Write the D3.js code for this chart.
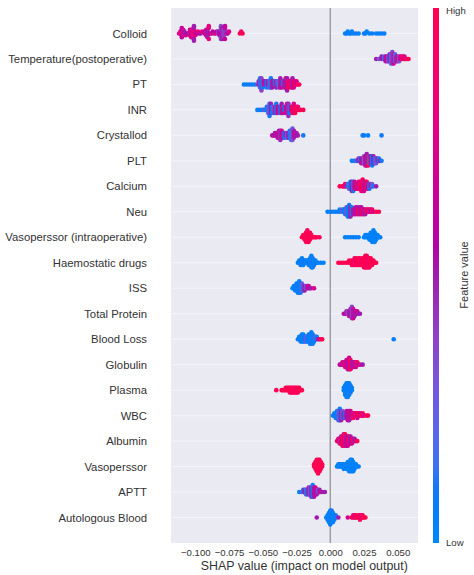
<!DOCTYPE html>
<html>
<head>
<meta charset="utf-8">
<script src="https://cdn.jsdelivr.net/npm/d3@7"></script>
<style>
  body { margin: 0; background: #fff; }
  text { font-family: "Liberation Sans", Arial, sans-serif; fill: #333; }
</style>
</head>
<body>
<div id="chart"></div>
<script>
// each swarm entry: [SHAP value x1000, number of dots at that value, feature value 0..1]
var colloid = [[-112,1,.7],[-111,2,.8],[-110,4,.6],[-109,4,.75],[-108,2,.5],[-107,1,.7],[-106,1,.6],[-105,1,.5],
  [-104,3,.8],[-103,5,.6],[-102,5,.8],[-101,4,.5],[-100,3,.75],[-99,1,.6],[-98,1,.8],[-97,1,.7],[-96,1,.5],[-95,1,.8],
  [-93,2,.6],[-92,4,.75],[-91,5,.5],[-90,3,.8],[-89,1,.6],[-88,1,.75],[-87,1,.6],[-86,1,.5],[-85,1,.8],[-84,1,.6],
  [-83,2,.4],[-82,3,.6],[-81,5,.35],[-80,7,.5],[-79,5,.4],[-78,3,.65],[-77,2,.45],[-76,1,.6],[-75,1,.75],
  [-67,1,1],[-66,1,.95],[-65,1,1],
  [11,1,.05],[12,1,.1],[13,1,.05],[14,1,.05],[15,1,.1],[16,1,.05],[17,1,.05],[19,1,.1],[21,1,.05],
  [25,1,.05],[26,1,.1],[27,1,.05],[29,1,.05],[31,1,.1],[34,1,.05],[36,1,.05],[38,1,.1],[40,1,.05]];
var temperature = [[34,1,.5],[36,1,.3],[38,2,.5],[40,2,.15],[41,3,.5],[42,3,.7],[43,3,.3],[44,4,.5],[45,5,.15],[46,6,.4],
  [47,5,.7],[48,4,.2],[49,3,.5],[50,3,.8],[51,3,.3],[52,2,.6],[53,2,.85],[54,2,1],[55,2,.7],[56,1,1],[57,1,.9],[58,1,1]];
var pt = [[-64,1,.05],[-62,1,.05],[-60,1,.1],[-58,1,.05],[-56,1,.05],[-54,1,.3],[-53,2,.5],[-52,4,.1],[-51,5,.4],[-50,3,.1],
  [-49,2,.7],[-48,2,.5],[-47,3,.1],[-46,2,.5],[-45,3,.3],[-44,4,.1],[-43,3,.5],[-42,2,.7],[-41,2,.1],[-40,3,.5],[-39,2,.15],
  [-38,3,.3],[-37,4,.5],[-36,3,.7],[-35,2,.1],[-34,3,.5],[-33,4,.7],[-32,5,.5],[-31,3,1],[-30,2,.7],[-29,3,1],[-28,4,.5],
  [-27,3,.7],[-26,2,1],[-25,2,.7],[-24,1,1],[-23,1,.9]];
var inr = [[-54,1,.05],[-52,1,.1],[-50,1,.05],[-49,1,.3],[-48,1,.05],[-47,2,.1],[-46,3,.3],[-45,5,.1],[-44,4,.5],[-43,3,.1],
  [-42,2,.3],[-41,3,.5],[-40,4,.1],[-39,3,.7],[-38,2,.5],[-37,3,.1],[-36,4,.5],[-35,3,.7],[-34,2,.1],[-33,3,.5],[-32,4,.7],
  [-31,5,.45],[-30,3,.1],[-29,2,.7],[-28,3,1],[-27,4,.7],[-26,3,1],[-25,2,1],[-24,2,.85],[-23,1,1],[-22,1,1],[-20,1,1]];
var crystallod = [[-43,1,.5],[-42,1,.7],[-41,2,.5],[-40,2,.5],[-39,3,.7],[-38,4,.5],[-37,5,.45],[-36,4,.7],[-35,3,.5],[-34,3,.1],
  [-33,2,.5],[-32,3,.3],[-31,3,.5],[-30,4,.1],[-29,5,.15],[-28,6,.3],[-27,4,.5],[-26,2,.7],[-25,2,.5],[-24,1,.5],[-20,1,.1],
  [24,1,.05],[25,1,.1],[28,1,.05],[38,1,.1]];
var plt = [[16,1,.05],[18,1,.1],[19,1,.3],[20,1,.05],[21,2,.5],[22,2,.1],[23,3,.7],[24,3,.5],[25,4,.3],[26,5,.7],[27,6,.5],
  [28,5,1],[29,4,.1],[30,4,.7],[31,5,.1],[32,4,.5],[33,3,.1],[34,3,.3],[35,2,.5],[36,2,.1],[37,1,.5],[38,1,.1]];
var calcium = [[7,1,1],[9,1,1],[10,1,.7],[11,2,1],[12,1,.5],[13,2,.1],[14,3,.3],[15,4,.1],[16,5,.5],[17,5,.1],[18,4,.7],
  [19,3,.5],[20,3,1],[21,4,.7],[22,4,1],[23,5,.7],[24,6,1],[25,5,.7],[26,4,.5],[27,4,1],[28,3,.7],[29,3,.1],[30,2,.5],
  [31,2,.3],[32,1,.1],[34,1,.5]];
var neu = [[-2,1,.05],[0,1,.05],[2,1,.1],[4,1,.05],[6,1,.05],[7,2,.1],[9,2,.3],[10,2,.05],[11,3,.1],[12,4,.3],[13,5,.05],
  [14,6,.1],[15,5,.5],[16,4,.1],[17,3,.7],[18,3,.5],[19,4,.7],[20,4,.5],[21,3,1],[22,4,.7],[23,4,.5],[24,3,1],[25,3,.7],
  [26,3,.5],[27,2,1],[28,2,.7],[29,2,1],[30,2,.5],[31,2,1],[32,1,.7],[34,1,1],[36,1,1]];
var vasoIntra = [[-21,1,1],[-20,2,1],[-19,3,1],[-18,5,1],[-17,6,.95],[-16,5,1],[-15,4,1],[-14,2,1],[-13,1,1],[-12,1,1],
  [-11,1,1],[-10,1,1],[-8,1,1],
  [11,1,.05],[13,1,.05],[15,1,.05],[17,1,.05],[19,1,.05],[21,1,.05],[25,1,.05],[26,2,.05],[27,2,.05],[28,2,.05],[29,3,.05],
  [30,4,.05],[31,5,.05],[32,6,.05],[33,5,.05],[34,3,.05],[35,2,.05],[36,1,.05],[37,1,.05]];
var haemostatic = [[-24,1,.05],[-23,2,.05],[-22,3,.1],[-21,4,.05],[-20,3,.05],[-19,2,.1],[-18,2,.05],[-17,2,.05],[-16,3,.1],
  [-15,4,.05],[-14,6,.05],[-13,5,.1],[-12,3,.05],[-11,2,.05],[-10,1,.1],[-9,1,.05],[-7,1,.05],[-5,1,.05],
  [6,1,1],[8,1,1],[10,1,1],[12,1,1],[14,2,1],[16,3,1],[17,3,1],[18,4,.85],[19,4,1],[20,3,1],[21,4,1],[22,4,1],[23,3,.85],
  [24,4,1],[25,5,1],[26,6,1],[27,6,1],[28,5,.85],[29,5,1],[30,4,1],[31,3,1],[32,2,1],[33,1,1],[34,1,1]];
var iss = [[-28,1,.05],[-27,2,.05],[-26,3,.1],[-25,4,.05],[-24,5,.1],[-23,6,.05],[-22,5,.1],[-21,4,.3],[-20,3,.1],[-19,3,.5],
  [-18,2,.3],[-17,2,.5],[-16,2,.7],[-15,1,.5],[-14,1,.5],[-12,1,.7]];
var totalProtein = [[10,1,.5],[11,1,.7],[12,2,.5],[13,2,.3],[14,3,.7],[15,4,.5],[16,6,.35],[17,5,.7],[18,3,.5],[19,2,.5],
  [20,2,.7],[21,1,.5],[22,1,.5]];
var bloodLoss = [[-24,1,.05],[-23,2,.05],[-22,3,.1],[-21,4,.05],[-20,4,.05],[-19,3,.1],[-18,3,.3],[-17,3,.05],[-16,4,.1],
  [-15,5,.05],[-14,6,.05],[-13,5,.1],[-12,3,.05],[-11,2,.3],[-10,2,.05],[-9,1,.5],[-8,1,.7],[-7,1,1],[-6,1,1],[47,1,.05]];
var globulin = [[7,1,.7],[8,1,.5],[9,2,.7],[10,2,.5],[11,3,1],[12,4,.7],[13,5,.5],[14,6,.7],[15,5,1],[16,3,.5],[17,3,.7],
  [18,2,.5],[19,3,.7],[20,2,1],[21,1,.5],[22,1,.7],[24,1,.5]];
var plasma = [[-40,1,1],[-36,1,1],[-35,1,1],[-34,1,1],[-33,2,1],[-32,2,1],[-31,2,1],[-30,3,1],[-29,3,1],[-28,3,1],[-27,3,1],
  [-26,3,.85],[-25,3,1],[-24,3,1],[-23,2,1],[-22,1,1],[-21,1,1],
  [10,2,.05],[11,5,.05],[12,7,.1],[13,7,.05],[14,6,.05],[15,4,.1],[16,2,.05]];
var wbc = [[2,1,.05],[3,2,.05],[4,3,.1],[5,4,.05],[6,5,.3],[7,6,.05],[8,5,.5],[9,4,.3],[10,3,.5],[11,3,.1],[12,4,.5],[13,5,.7],
  [14,5,.5],[15,4,.7],[16,3,.5],[17,3,1],[18,2,.7],[19,2,1],[20,3,.7],[21,2,1],[22,2,.7],[23,1,1],[24,2,1],[25,1,.7],
  [27,1,1],[28,1,1]];
var albumin = [[5,1,1],[6,2,.7],[7,3,1],[8,4,.5],[9,5,1],[10,6,.7],[11,6,1],[12,5,.5],[13,5,.7],[14,4,1],[15,4,.5],[16,3,.7],
  [17,2,1],[18,2,.5],[19,1,.7],[20,1,1]];
var vasopressor = [[-12,2,1],[-11,4,1],[-10,6,1],[-9,7,1],[-8,6,1],[-7,4,1],[-6,2,1],
  [5,1,.05],[6,2,.05],[7,2,.05],[8,2,.05],[9,2,.05],[10,3,.05],[11,2,.05],[12,3,.05],[13,4,.05],[14,5,.05],[15,6,.05],
  [16,6,.05],[17,5,.05],[18,3,.05],[19,2,.05],[20,1,.05],[21,1,.05]];
var aptt = [[-23,1,.05],[-21,1,.3],[-20,2,.05],[-19,2,.5],[-18,3,.3],[-17,3,.05],[-16,4,.5],[-15,4,.3],[-14,5,.5],[-13,6,.1],
  [-12,5,.5],[-11,4,.7],[-10,3,.5],[-9,2,.3],[-8,2,.5],[-7,1,.7],[-6,1,.5],[-4,1,.5]];
var autologous = [[-10,1,.5],[-3,1,.05],[-2,3,.05],[-1,5,.05],[0,7,.05],[1,6,.1],[2,5,.05],[3,3,.05],[4,2,.1],[6,1,.5],
  [13,1,.7],[16,1,1],[17,2,1],[18,2,.7],[19,2,1],[20,1,1],[21,2,1],[22,3,1],[23,2,.7],[24,2,1],[25,1,1],[26,1,1]];

var features = ["Colloid","Temperature(postoperative)","PT","INR","Crystallod","PLT","Calcium","Neu",
  "Vasoperssor (intraoperative)","Haemostatic drugs","ISS","Total Protein","Blood Loss","Globulin","Plasma",
  "WBC","Albumin","Vasoperssor","APTT","Autologous Blood"];
var swarms = [colloid, temperature, pt, inr, crystallod, plt, calcium, neu, vasoIntra, haemostatic, iss,
  totalProtein, bloodLoss, globulin, plasma, wbc, albumin, vasopressor, aptt, autologous];
var xTicks = [-0.1, -0.075, -0.05, -0.025, 0, 0.025, 0.05];

var W = 474, H = 575,
    plotL = 171, plotR = 418, plotT = 8, plotB = 543,
    dotR = 2.3;

// shap red_blue colormap (lch ramp with darker middle)
function shapColor(t){
  var l = 54 - 14*(1 - Math.abs(2*t - 1));
  return d3.hcl(266.9 + 113.4*t, 70 + 20*t, l).formatHex();
}

var svg = d3.select("#chart").append("svg")
  .attr("width", W).attr("height", H);

var x = d3.scaleLinear().domain([-0.118, 0.065]).range([plotL, plotR]);
var y = d3.scaleLinear().domain([-1, features.length]).range([plotT, plotB]);
var unit = y(1) - y(0);

svg.append("rect")
  .attr("x", plotL).attr("y", plotT)
  .attr("width", plotR - plotL).attr("height", plotB - plotT)
  .attr("fill", "#eaeaf2");

svg.append("g").selectAll("line").data(features).join("line")
  .attr("x1", plotL).attr("x2", plotR)
  .attr("y1", function(d,i){ return y(i); }).attr("y2", function(d,i){ return y(i); })
  .attr("stroke", "#ffffff").attr("stroke-opacity", 0.6).attr("stroke-width", 0.8);

svg.append("line")
  .attr("x1", x(0)).attr("x2", x(0)).attr("y1", plotT).attr("y2", plotB)
  .attr("stroke", "#999").attr("stroke-width", 1.4);

// beeswarm layout, same binning as shap.summary_plot
function layout(rows, i){
  var pts = [];
  rows.forEach(function(r){
    for(var k=0; k<r[1]; k++) pts.push({ v: r[0]/1000, fv: r[2] });
  });
  var vmin = d3.min(pts, function(p){ return p.v; }),
      vmax = d3.max(pts, function(p){ return p.v; });
  pts.forEach(function(p, j){
    p.q = Math.round(100*(p.v - vmin)/(vmax - vmin + 1e-8));
    p.j = j;
  });
  var order = pts.slice().sort(function(a,b){ return a.q - b.q || a.j - b.j; });
  var layer = 0, last = -1, maxY = 0;
  order.forEach(function(p){
    if(p.q !== last) layer = 0;
    p.ys = Math.ceil(layer/2) * ((layer % 2)*2 - 1);
    maxY = Math.max(maxY, p.ys);
    layer++;
    last = p.q;
  });
  var s = 0.9*(0.4/(maxY + 1));
  pts.forEach(function(p){ p.row = i; p.ys *= s; });
  return pts;
}

var dots = [];
swarms.forEach(function(rows, i){ dots = dots.concat(layout(rows, i)); });

svg.append("g").selectAll("circle").data(dots).join("circle")
  .attr("cx", function(d){ return x(d.v); })
  .attr("cy", function(d){ return y(d.row) - d.ys*unit; })
  .attr("r", dotR)
  .attr("fill", function(d){ return shapColor(d.fv); });

svg.append("g").selectAll("text").data(features).join("text")
  .attr("x", 147).attr("y", function(d,i){ return y(i); })
  .attr("dy", "0.36em").attr("text-anchor", "end")
  .style("font-size", "11.3px")
  .text(function(d){ return d; });

var xAxis = svg.append("g")
  .attr("transform", "translate(0," + plotB + ")")
  .call(d3.axisBottom(x).tickValues(xTicks).tickSize(0).tickPadding(6)
    .tickFormat(function(d){ return d3.format(".3f")(d).replace("-", "\u2212"); }));
xAxis.select(".domain").remove();
xAxis.selectAll("text")
  .style("font-size", "9.6px")
  .style("font-family", "\"Liberation Sans\", Arial, sans-serif")
  .attr("fill", "#333");

svg.append("text")
  .attr("x", x(0) - 26).attr("y", 570)
  .attr("text-anchor", "middle")
  .style("font-size", "12.4px")
  .text("SHAP value (impact on model output)");

// colour bar
var grad = svg.append("defs").append("linearGradient")
  .attr("id", "cbar").attr("x1", 0).attr("x2", 0).attr("y1", 1).attr("y2", 0);
d3.range(0, 1.0001, 0.05).forEach(function(t){
  grad.append("stop").attr("offset", t).attr("stop-color", shapColor(t));
});
svg.append("rect")
  .attr("x", 433).attr("y", plotT)
  .attr("width", 6).attr("height", plotB - plotT)
  .attr("fill", "url(#cbar)");

svg.append("text").attr("x", 446).attr("y", 14)
  .style("font-size", "9.6px").text("High");
svg.append("text").attr("x", 446).attr("y", 546)
  .style("font-size", "9.6px").text("Low");
svg.append("text")
  .attr("transform", "translate(468,275) rotate(-90)")
  .attr("text-anchor", "middle")
  .style("font-size", "11px")
  .text("Feature value");
</script>
</body>
</html>
